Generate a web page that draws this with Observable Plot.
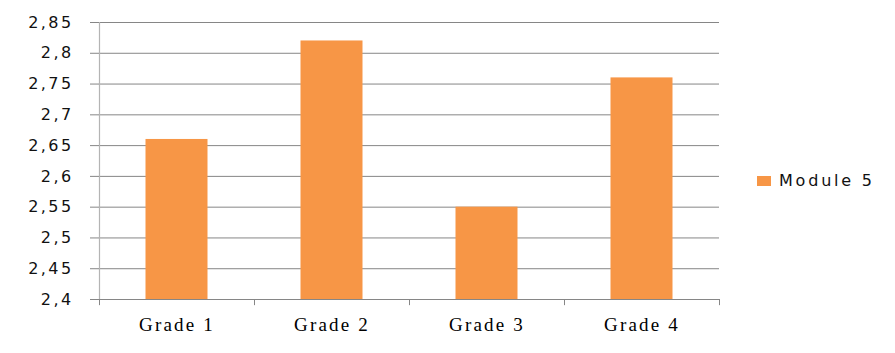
<!DOCTYPE html>
<html>
<head>
<meta charset="utf-8">
<script src="https://cdn.jsdelivr.net/npm/d3@7"></script>
<script src="https://cdn.jsdelivr.net/npm/@observablehq/plot@0.6"></script>
<style>
  html, body { margin: 0; padding: 0; background: #fff; }
  #wrap { position: relative; width: 895px; height: 353px; }
  #legend { position: absolute; left: 757px; top: 171px; display: flex; align-items: center;
            font-family: "DejaVu Sans", sans-serif; font-size: 16px; color: #111; letter-spacing: 2.8px; }
  #legend .sw { width: 14px; height: 10px; background: #F79646; margin-right: 8px; }
  [aria-label="y-axis tick label"] text { letter-spacing: 2.4px; }
  [aria-label="x-axis tick label"] text { letter-spacing: 2.2px; }
</style>
</head>
<body>
<div id="wrap">
  <div id="chart"></div>
  <div id="legend"><span class="sw"></span><span id="legendLabel"></span></div>
</div>
<script>
const categories = ["Grade 1", "Grade 2", "Grade 3", "Grade 4"];
const module5 = [2.66, 2.82, 2.55, 2.76];
const yTicks = [2.4, 2.45, 2.5, 2.55, 2.6, 2.65, 2.7, 2.75, 2.8, 2.85];
const seriesName = "Module 5";

const data = categories.map((c, i) => ({grade: c, value: module5[i]}));
const W = 895, H = 353, mL = 99, mR = 176, mT = 22, mB = 54;
const band = (W - mL - mR) / categories.length;
const barW = 62;
const yMin = 2.4, yMax = 2.85;
const tickLen = 0.01; // in data units below the baseline (~6px)
const fmt = d => String(+d.toFixed(2)).replace(".", ",");

const chart = Plot.plot({
  width: W, height: H,
  marginLeft: mL, marginRight: mR, marginTop: mT, marginBottom: mB,
  style: {background: "#fff", overflow: "visible"},
  x: {type: "band", domain: categories, padding: 0},
  y: {type: "linear", domain: [yMin, yMax]},
  marks: [
    Plot.gridY(yTicks, {stroke: "#868686", strokeOpacity: 1, strokeWidth: 1}),
    Plot.barY(data, {x: "grade", y1: () => yMin, y2: "value", fill: "#F79646",
      insetLeft: (band - barW) / 2, insetRight: (band - barW) / 2}),
    Plot.ruleY([yMin], {stroke: "#868686"}),
    Plot.ruleX([categories[0]], {x: d => d, dx: -band / 2, stroke: "#B4B4B4", strokeWidth: 1.2}),
    Plot.ruleX(categories, {x: d => d, dx: -band / 2, y1: () => yMin, y2: () => yMin - tickLen, stroke: "#868686"}),
    Plot.ruleX([categories[categories.length - 1]], {x: d => d, dx: band / 2, y1: () => yMin, y2: () => yMin - tickLen, stroke: "#868686"}),
    Plot.axisY(yTicks, {tickSize: 9, tickPadding: 17, tickFormat: fmt, stroke: "#868686",
      fontSize: 16, fontFamily: "DejaVu Sans, sans-serif", fill: "#111", label: null}),
    Plot.axisX(categories, {tickSize: 0, tickPadding: 18, fontSize: 19,
      fontFamily: "Liberation Serif, serif", fill: "#000", label: null})
  ]
});
document.getElementById("chart").appendChild(chart);
document.getElementById("legendLabel").textContent = seriesName;
</script>
</body>
</html>
